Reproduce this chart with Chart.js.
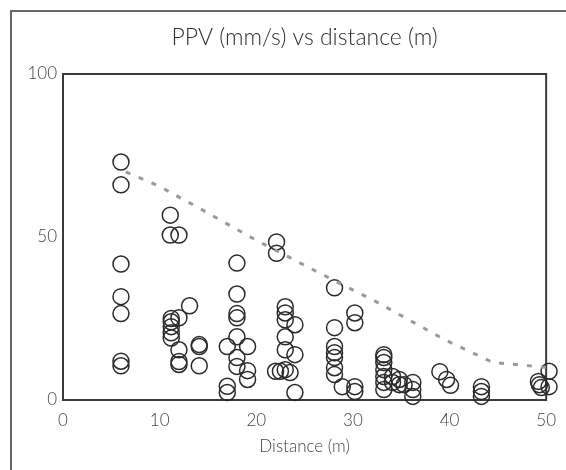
<!DOCTYPE html>
<html>
<head>
<meta charset="utf-8">
<script src="https://cdn.jsdelivr.net/npm/chart.js@4.4.1/dist/chart.umd.min.js"></script>
<style>
  html, body { margin: 0; padding: 0; background: #fff; }
  #grafico { display: block; }
</style>
</head>
<body>
<canvas id="grafico" width="566" height="470"></canvas>
<script>
"use strict";

// Mediciones: distancia (m) y PPV (mm/s)
const distancia = [
    6, 6, 6, 6, 6, 6, 6,
    11.1, 11.1, 12,
    11.2, 11.2, 11.2, 11.2, 11.2,
    12, 12, 12, 12,
    13.1,
    14.1, 14.1, 14.1,
    17, 17, 17,
    18, 18, 18, 18, 18, 18, 18,
    19.1, 19.1, 19.1,
    22.1, 22.1, 22, 22.5,
    23, 23, 23, 23, 23, 23, 23.5,
    24, 24, 24,
    28.1, 28.1, 28.1, 28.1, 28.1, 28.1, 28.1,
    28.9,
    30.2, 30.2, 30.2, 30.2,
    33.2, 33.2, 33.2, 33.2, 33.2, 33.2, 33.2,
    34.1, 34.1, 34.8, 34.8, 35.3,
    36.2, 36.2, 36.2,
    39, 39.7, 40.1,
    43.3, 43.3, 43.3,
    49.2, 49.3, 49.5, 50.3, 50.3
];
const ppv = [
    73, 66, 41.7, 31.7, 26.5, 11.9, 10.5,
    56.7, 50.6, 50.6,
    25, 24, 22.5, 20.6, 19,
    25.2, 15.4, 11.8, 10.9,
    28.9,
    17, 16.4, 10.5,
    16.4, 4.2, 2.3,
    42, 32.5, 26.5, 25.2, 19.4, 13, 10.3,
    16.4, 9, 6.3,
    48.5, 45, 8.8, 8.8,
    28.6, 26.7, 24.6, 19.4, 15.4, 9.3, 8.4,
    23.1, 13.9, 2.3,
    34.4, 22.2, 16.4, 14.5, 13, 9.9, 7.8,
    4.1,
    26.7, 23.7, 4.1, 2.6,
    13.9, 13, 11.5, 9.3, 7.2, 5.4, 3.2,
    7.2, 5.4, 6.3, 4.7, 4.7,
    5.4, 3.2, 1.1,
    8.7, 6.3, 4.5,
    4.1, 2.6, 1.1,
    5.7, 4.7, 3.8, 8.8, 4.1
];

// Curva límite (línea punteada)
const curvaX = [6.5, 10, 14, 20, 27.5, 32.5, 39.5, 44.5, 50];
const curvaY = [70, 65.5, 59, 49, 37.5, 30, 18.5, 11.5, 10];

const ticksX = [0, 10, 20, 30, 40, 50];
const ticksY = [0, 50, 100];

const fuente = "Lato, 'Open Sans', sans-serif";

const puntos = distancia.map((d, i) => ({ x: d, y: ppv[i] }));
const curva = curvaX.map((d, i) => ({ x: d, y: curvaY[i] }));

// marco exterior y caja del area de trazado
const marco = {
    id: "marco",
    beforeDraw(chart) {
        const ctx = chart.ctx;
        ctx.save();
        ctx.fillStyle = "#fff";
        ctx.fillRect(0, 0, chart.width, chart.height);
        ctx.strokeStyle = "#666";
        ctx.lineWidth = 2;
        ctx.beginPath();
        ctx.moveTo(11, chart.height);
        ctx.lineTo(11, 11);
        ctx.lineTo(chart.width, 11);
        ctx.stroke();
        ctx.restore();
    },
    beforeDatasetsDraw(chart) {
        const { ctx, chartArea: a } = chart;
        ctx.save();
        ctx.strokeStyle = "#3a3a3a";
        ctx.lineWidth = 2;
        ctx.strokeRect(a.left, a.top, a.right - a.left, a.bottom - a.top);
        ctx.restore();
    }
};

new Chart(document.getElementById("grafico"), {
    type: "scatter",
    data: {
        datasets: [
            {
                data: curva,
                showLine: true,
                borderColor: "#9a9a9a",
                borderWidth: 3,
                borderDash: [5, 9],
                pointRadius: 0,
                fill: false,
                clip: false
            },
            {
                data: puntos,
                pointRadius: 8,
                pointHoverRadius: 8,
                backgroundColor: "rgba(0,0,0,0)",
                borderColor: "#2a2a2a",
                borderWidth: 1.5,
                clip: false
            }
        ]
    },
    options: {
        responsive: false,
        animation: false,
        devicePixelRatio: 1,
        layout: { padding: { left: 0, right: 16, top: 0, bottom: 0 } },
        plugins: {
            legend: { display: false },
            tooltip: { enabled: false },
            title: {
                display: true,
                text: "PPV (mm/s) vs distance (m)",
                fullSize: false,
                color: "#2e2e2e",
                font: { family: fuente, size: 23, weight: 300 },
                padding: { top: 24, bottom: 22.4 }
            }
        },
        scales: {
            x: {
                type: "linear",
                min: 0,
                max: 50,
                afterBuildTicks: (s) => { s.ticks = ticksX.map(v => ({ value: v })); },
                afterFit: (s) => { s.height = 70; },
                grid: { display: false, drawTicks: false },
                border: { display: false },
                ticks: { color: "#444", padding: 10, font: { family: fuente, size: 17, weight: 300 } },
                title: {
                    display: true,
                    text: "Distance (m)",
                    color: "#444",
                    font: { family: fuente, size: 17, weight: 300 },
                    padding: { top: 13, bottom: 13 }
                }
            },
            y: {
                type: "linear",
                min: 0,
                max: 100,
                afterBuildTicks: (s) => { s.ticks = ticksY.map(v => ({ value: v })); },
                afterFit: (s) => { s.width = 63; },
                grid: { display: false, drawTicks: false },
                border: { display: false },
                ticks: { color: "#444", padding: 6, font: { family: fuente, size: 17, weight: 300 } }
            }
        }
    },
    plugins: [marco]
});
</script>
</body>
</html>
